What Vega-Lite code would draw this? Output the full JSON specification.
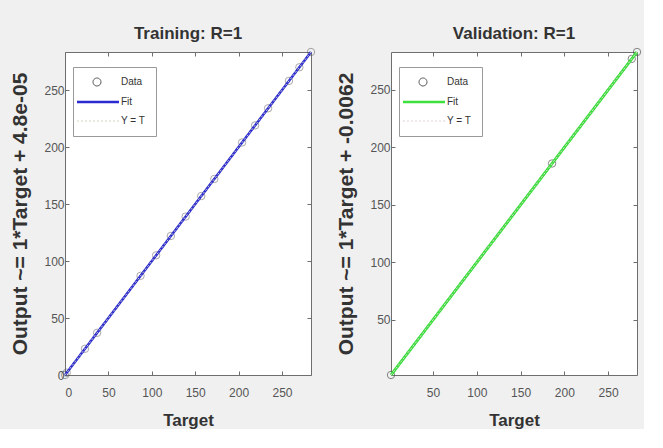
{
  "$schema": "https://vega.github.io/schema/vega-lite/v6.json",
  "background": "#f0f0f0",
  "padding": {"left": 8, "top": 24, "right": 0, "bottom": 0},
  "spacing": 80,
  "bounds": "flush",
  "config": {
    "font": "Liberation Sans",
    "view": {"fill": "white", "stroke": "#6e6e6e", "strokeWidth": 1},
    "axis": {"grid": false, "domain": false, "tickColor": "#6e6e6e", "tickSize": -4, "labelFontSize": 12, "labelColor": "#555555", "labelFont": "Liberation Sans", "titleFont": "Liberation Sans", "titleFontWeight": "bold", "titleColor": "#333333"},
    "title": {"fontSize": 17, "fontWeight": "bold", "color": "#333333", "offset": 3, "font": "Liberation Sans"},
    "legend": {"orient": "none", "legendX": 8, "legendY": 15, "fillColor": "white", "strokeColor": "#999999", "padding": 10, "symbolSize": 100, "labelOffset": 28, "rowPadding": 9, "labelFontSize": 10, "labelColor": "#333333", "labelFont": "Liberation Sans", "title": null}
  },
  "datasets": {
    "train_points": [
      {"target": 0, "output": 0}, {"target": 2, "output": 2}, {"target": 23, "output": 23}, {"target": 37, "output": 37},
      {"target": 87, "output": 87}, {"target": 105, "output": 105}, {"target": 122, "output": 122}, {"target": 139, "output": 139},
      {"target": 157, "output": 157}, {"target": 172, "output": 172}, {"target": 204, "output": 204}, {"target": 219, "output": 219},
      {"target": 234, "output": 234}, {"target": 258, "output": 258}, {"target": 270, "output": 270}, {"target": 283.4, "output": 283.4}
    ],
    "train_lines": [
      {"series": "Fit", "target": 0, "output": 0}, {"series": "Fit", "target": 283.4, "output": 283.4},
      {"series": "Y = T", "target": 0, "output": 0}, {"series": "Y = T", "target": 283.4, "output": 283.4}
    ],
    "val_points": [
      {"target": 2, "output": 2}, {"target": 186, "output": 186}, {"target": 277, "output": 277}, {"target": 283, "output": 283}
    ],
    "val_lines": [
      {"series": "Fit", "target": 2, "output": 1.994}, {"series": "Fit", "target": 283, "output": 282.994},
      {"series": "Y = T", "target": 2, "output": 2}, {"series": "Y = T", "target": 283, "output": 283}
    ]
  },
  "hconcat": [
    {
      "width": 246, "height": 323,
      "title": "Training: R=1",
      "resolve": {"axis": {"x": "independent", "y": "independent"}},
      "layer": [
        {
          "data": {"name": "train_points"},
          "mark": {"type": "point", "shape": "circle", "filled": false, "stroke": "#555555", "strokeWidth": 1, "size": 55, "opacity": 0.5},
          "encoding": {
            "x": {"field": "target", "type": "quantitative", "scale": {"domain": [0, 283.4], "nice": false, "zero": false},
              "axis": {"orient": "bottom", "values": [0, 50, 100, 150, 200, 250], "labelPadding": 16, "title": "Target", "titleFontSize": 17, "titleY": 45, "titleBaseline": "middle"}},
            "y": {"field": "output", "type": "quantitative", "scale": {"domain": [0, 283.4], "nice": false, "zero": false},
              "axis": {"orient": "left", "values": [0, 50, 100, 150, 200, 250], "labelPadding": 5, "title": "Output ~= 1*Target + 4.8e-05", "titleFontSize": 21, "titleX": -45, "titleBaseline": "middle"}}
          }
        },
        {
          "data": {"name": "train_lines"},
          "mark": {"type": "line"},
          "encoding": {
            "x": {"field": "target", "type": "quantitative", "axis": {"orient": "top", "labels": false, "title": null, "values": [0, 50, 100, 150, 200, 250]}},
            "y": {"field": "output", "type": "quantitative", "axis": {"orient": "right", "labels": false, "title": null, "values": [0, 50, 100, 150, 200, 250]}},
            "detail": {"field": "series"},
            "color": {"field": "series", "type": "nominal", "scale": {"domain": ["Data", "Fit", "Y = T"], "range": ["#555555", "#2a2ad0", "#d4d4c0"]},
              "legend": {"encode": {"symbols": {"update": {
                "shape": {"signal": "datum.value === 'Data' ? 'M2.6,0A0.8,0.8 0 1,1 1,0A0.8,0.8 0 1,1 2.6,0Z' : 'M-2.2,0H6.2'"},
                "strokeWidth": {"signal": "datum.value === 'Fit' ? 2.5 : 1"},
                "strokeDash": {"signal": "datum.value === 'Y = T' ? [2,2] : [1,0]"},
                "fill": {"value": "transparent"},
                "size": {"value": 100}
              }}}}},
            "strokeDash": {"field": "series", "type": "nominal", "scale": {"domain": ["Fit", "Y = T"], "range": [[1, 0], [2, 2]]}, "legend": null},
            "strokeWidth": {"field": "series", "type": "nominal", "scale": {"domain": ["Fit", "Y = T"], "range": [2.5, 1]}, "legend": null}
          }
        }
      ]
    },
    {
      "width": 246, "height": 323,
      "title": "Validation: R=1",
      "resolve": {"axis": {"x": "independent", "y": "independent"}},
      "layer": [
        {
          "data": {"name": "val_points"},
          "mark": {"type": "point", "shape": "circle", "filled": false, "stroke": "#555555", "strokeWidth": 1, "size": 55, "opacity": 0.7},
          "encoding": {
            "x": {"field": "target", "type": "quantitative", "scale": {"domain": [2, 283], "nice": false, "zero": false},
              "axis": {"orient": "bottom", "values": [50, 100, 150, 200, 250], "labelPadding": 16, "title": "Target", "titleFontSize": 17, "titleY": 45, "titleBaseline": "middle"}},
            "y": {"field": "output", "type": "quantitative", "scale": {"domain": [2, 283], "nice": false, "zero": false},
              "axis": {"orient": "left", "values": [50, 100, 150, 200, 250], "labelPadding": 5, "title": "Output ~= 1*Target + -0.0062", "titleFontSize": 21, "titleX": -45, "titleBaseline": "middle"}}
          }
        },
        {
          "data": {"name": "val_lines"},
          "mark": {"type": "line"},
          "encoding": {
            "x": {"field": "target", "type": "quantitative", "axis": {"orient": "top", "labels": false, "title": null, "values": [50, 100, 150, 200, 250]}},
            "y": {"field": "output", "type": "quantitative", "axis": {"orient": "right", "labels": false, "title": null, "values": [50, 100, 150, 200, 250]}},
            "detail": {"field": "series"},
            "color": {"field": "series", "type": "nominal", "scale": {"domain": ["Data", "Fit", "Y = T"], "range": ["#555555", "#3ee03e", "#e0d0d8"]},
              "legend": {"encode": {"symbols": {"update": {
                "shape": {"signal": "datum.value === 'Data' ? 'M2.6,0A0.8,0.8 0 1,1 1,0A0.8,0.8 0 1,1 2.6,0Z' : 'M-2.2,0H6.2'"},
                "strokeWidth": {"signal": "datum.value === 'Fit' ? 2.5 : 1"},
                "strokeDash": {"signal": "datum.value === 'Y = T' ? [2,2] : [1,0]"},
                "fill": {"value": "transparent"},
                "size": {"value": 100}
              }}}}},
            "strokeDash": {"field": "series", "type": "nominal", "scale": {"domain": ["Fit", "Y = T"], "range": [[1, 0], [2, 2]]}, "legend": null},
            "strokeWidth": {"field": "series", "type": "nominal", "scale": {"domain": ["Fit", "Y = T"], "range": [3, 1]}, "legend": null}
          }
        }
      ]
    }
  ],
  "resolve": {"scale": {"color": "independent", "strokeDash": "independent", "strokeWidth": "independent"}}
}
